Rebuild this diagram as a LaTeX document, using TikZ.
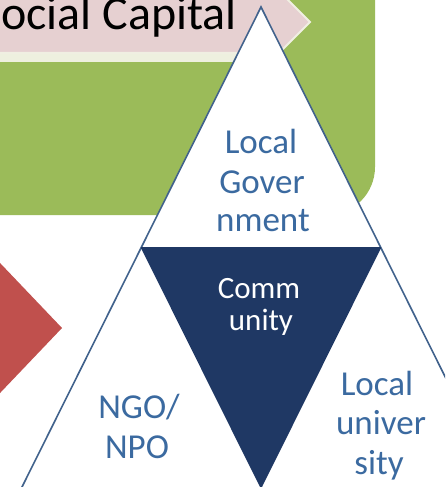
\documentclass[tikz,border=0pt]{standalone}
\usepackage{fontspec}
\setmainfont{Carlito}
\definecolor{officegreen}{HTML}{9BBB59}
\definecolor{pinkarrow}{HTML}{E6D0D1}
\definecolor{pinkedge}{HTML}{F0EFE2}
\definecolor{stripc}{HTML}{EEF0DF}
\definecolor{redtri}{HTML}{C0504D}
\definecolor{navy}{HTML}{1F3864}
\definecolor{outline}{HTML}{41628C}
\definecolor{txtblue}{HTML}{3B6AA0}
\tikzset{
  bigtxt/.style={anchor=base, inner sep=0pt, text=txtblue, font=\fontsize{35}{40}\selectfont},
  whitetxt/.style={anchor=base, inner sep=0pt, text=white, font=\fontsize{31}{36}\selectfont},
  titletxt/.style={anchor=base west, inner sep=0pt, text=black, font=\fontsize{48}{52}\selectfont},
}
\begin{document}
\begin{tikzpicture}[x=1pt,y=-1pt]
\useasboundingbox (0,0) rectangle (445,487);
\clip (0,0) rectangle (445,487);
% green rounded panel
\fill[officegreen, rounded corners=48pt] (-60,-60) rectangle (375,215);
% light strip under the banner
\fill[stripc] (-60,53) rectangle (285,62);
% pink banner (pentagon arrow)
\draw[fill=pinkarrow, draw=pinkedge, line width=2pt]
  (-60,-9) -- (279,-9) -- (310,22) -- (279,53) -- (-60,53) -- cycle;
\node[titletxt] (title) at (1,30) {ocial Capital};
% red arrow head on the left
\fill[redtri] (-40,221) -- (62,328) -- (-40,435) -- cycle;
% big triangle
\coordinate (apex) at (261,7);
\coordinate (bl) at (21,489);
\coordinate (br) at (501,489);
\coordinate (ml) at (141,248);
\coordinate (mr) at (381,248);
\coordinate (mb) at (261,489);
\draw[fill=white, draw=outline, line width=1.6pt, line join=miter] (apex) -- (bl) -- (br) -- cycle;
\fill[navy] (ml) -- (mr) -- (mb) -- cycle;
\draw[navy, line width=1.4pt] (ml) -- (mr);
% texts
\node[bigtxt] (lg1) at (261,153) {Local};
\node[bigtxt] (lg2) at (262,193) {Gover};
\node[bigtxt] (lg3) at (263,231) {nment};
\node[whitetxt] (c1) at (259,298) {Comm};
\node[whitetxt] (c2) at (261,330) {unity};
\node[bigtxt] (n1) at (139,418) {NGO/};
\node[bigtxt] (n2) at (137,458) {NPO};
\node[bigtxt] (u1) at (377,395) {Local};
\node[bigtxt] (u2) at (381,434) {univer};
\node[bigtxt] (u3) at (379,474) {sity};
\end{tikzpicture}
\end{document}
